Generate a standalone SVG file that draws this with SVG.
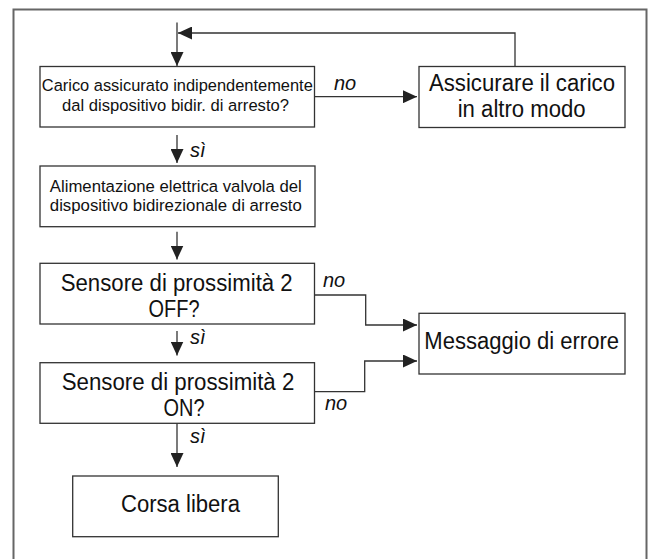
<svg xmlns="http://www.w3.org/2000/svg" width="654" height="559" viewBox="0 0 654 559">
<style>
.box{fill:#fff;stroke:#333;stroke-width:1.3}
.ln{fill:none;stroke:#333;stroke-width:1.3}
.t{font-family:"Liberation Sans",Arial,sans-serif;fill:#111;text-anchor:middle}
.s{font-size:16.8px}
.b{font-size:23px}
.lbl{font-family:"Liberation Sans",Arial,sans-serif;font-style:italic;font-size:20px;fill:#111}
</style>
<defs>
<marker id="ah" viewBox="0 0 14 13" refX="14" refY="6.5" markerWidth="14" markerHeight="13" markerUnits="userSpaceOnUse" orient="auto">
<path d="M0,0 L14,6.5 L0,13 Z" fill="#222"/>
</marker>
</defs>
<rect x="13.5" y="9.5" width="633" height="560" fill="none" stroke="#666" stroke-width="2"/>
<g id="connectors">
<path class="ln" d="M177,22.5 V66" marker-end="url(#ah)"/>
<path class="ln" d="M515,66.5 V33 H178" marker-end="url(#ah)"/>
<path class="ln" d="M314.5,96.7 H417" marker-end="url(#ah)"/>
<path class="ln" d="M177,135 V163" marker-end="url(#ah)"/>
<path class="ln" d="M177,231.7 V259.5" marker-end="url(#ah)"/>
<path class="ln" d="M314.5,295 H365.7 V325 H417" marker-end="url(#ah)"/>
<path class="ln" d="M177,331 V355.5" marker-end="url(#ah)"/>
<path class="ln" d="M314.5,391.7 H364.7 V361 H417" marker-end="url(#ah)"/>
<path class="ln" d="M177,423.3 V467" marker-end="url(#ah)"/>
<text class="lbl" x="334" y="90">no</text>
<text class="lbl" x="190" y="157">sì</text>
<text class="lbl" x="323" y="287">no</text>
<text class="lbl" x="190" y="344">sì</text>
<text class="lbl" x="325" y="410">no</text>
<text class="lbl" x="190" y="443">sì</text>
</g>
<g id="n1">
<rect class="box" x="40" y="66.5" width="274.5" height="60.5"/>
<text class="t s" x="177.3" y="90.7" textLength="271" lengthAdjust="spacingAndGlyphs">Carico assicurato indipendentemente</text>
<text class="t s" x="175.5" y="110.7" textLength="227" lengthAdjust="spacingAndGlyphs">dal dispositivo bidir. di arresto?</text>
</g>
<g id="n2">
<rect class="box" x="419" y="66.5" width="206" height="61"/>
<text class="t b" x="522" y="90.7" textLength="186" lengthAdjust="spacingAndGlyphs">Assicurare il carico</text>
<text class="t b" x="521.7" y="117.3" textLength="128" lengthAdjust="spacingAndGlyphs">in altro modo</text>
</g>
<g id="n3">
<rect class="box" x="40" y="166" width="275" height="60.7"/>
<text class="t s" x="175.8" y="191.8" textLength="252" lengthAdjust="spacingAndGlyphs">Alimentazione elettrica valvola del</text>
<text class="t s" x="175.8" y="211.3" textLength="252" lengthAdjust="spacingAndGlyphs">dispositivo bidirezionale di arresto</text>
</g>
<g id="n4">
<rect class="box" x="40" y="263.3" width="274.5" height="60.7"/>
<text class="t b" x="176.7" y="290.7" textLength="232" lengthAdjust="spacingAndGlyphs">Sensore di prossimità 2</text>
<text class="t b" x="174" y="317.3" textLength="51" lengthAdjust="spacingAndGlyphs">OFF?</text>
</g>
<g id="n5">
<rect class="box" x="419" y="313.3" width="206" height="60.7"/>
<text class="t b" x="521.7" y="349.3" textLength="194.7" lengthAdjust="spacingAndGlyphs">Messaggio di errore</text>
</g>
<g id="n6">
<rect class="box" x="40" y="362.7" width="274.5" height="60.6"/>
<text class="t b" x="178" y="390" textLength="232.6" lengthAdjust="spacingAndGlyphs">Sensore di prossimità 2</text>
<text class="t b" x="184" y="416" textLength="41" lengthAdjust="spacingAndGlyphs">ON?</text>
</g>
<g id="n7">
<rect class="box" x="72.7" y="476" width="205.6" height="60.7"/>
<text class="t b" x="180.5" y="511.7" textLength="119" lengthAdjust="spacingAndGlyphs">Corsa libera</text>
</g>
</svg>
